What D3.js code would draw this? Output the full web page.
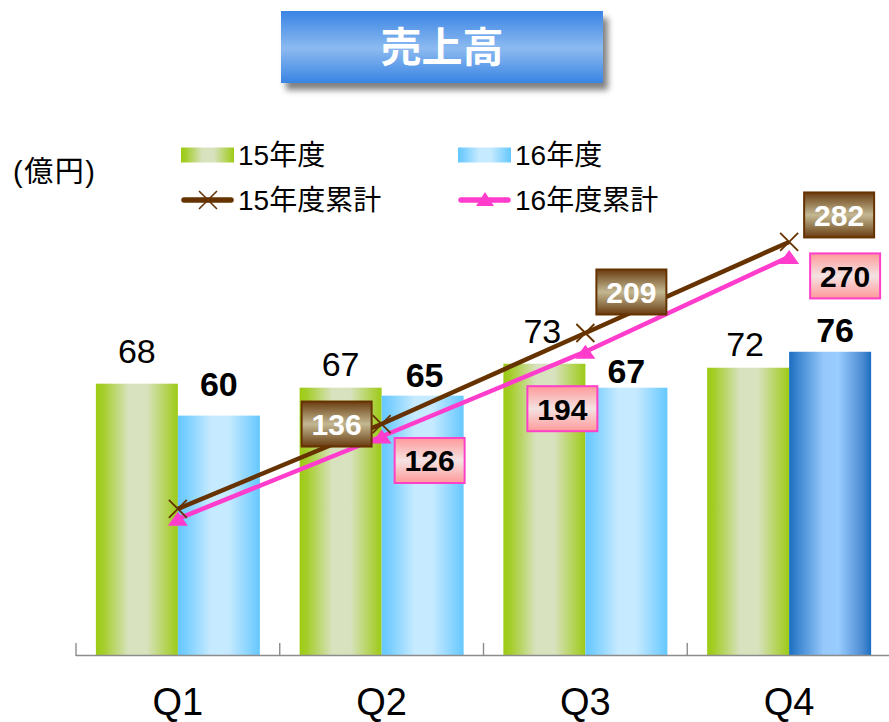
<!DOCTYPE html>
<html>
<head>
<meta charset="utf-8">
<script src="https://cdn.jsdelivr.net/npm/d3@7"></script>
<style>
  html, body { margin: 0; padding: 0; background: #fff; }
  svg { display: block; }
  text { font-family: "Liberation Sans", Arial, "Noto Sans CJK JP", sans-serif; }
</style>
</head>
<body>
<svg id="chart" width="889" height="722"></svg>
<script>
// ---- data ----
const quarters = ["Q1", "Q2", "Q3", "Q4"];
const sales15 = [68, 67, 73, 72];      // 15年度 quarterly sales (億円)
const sales16 = [60, 65, 67, 76];      // 16年度 quarterly sales (億円)
const cum15 = [68, 136, 209, 282];     // 15年度累計
const cum16 = [60, 126, 194, 270];     // 16年度累計
const titleText = "売上高";
const unitText = "(億円)";
const legendNames = ["15年度", "16年度", "15年度累計", "16年度累計"];

// ---- label placement (px) ----
const barLabelGap15 = [21, 12, 21, 12];
const barLabelGap16 = [20, 9, 5, 10];
const barLabelDx15 = [0, 0, -2, -3];
const barLabelDx16 = [0, 2, 0, 5];
// box centre offsets from the point; null = no box
const boxOffset15 = [null, [-45, 0], [46, -41], [50, -27]];
const boxOffset16 = [null, [48, 24], [-23, 57], [56, 19]];

const svg = d3.select("#chart");
const defs = svg.append("defs");

function hGrad(id, stops) {
  const g = defs.append("linearGradient").attr("id", id)
    .attr("x1", "0").attr("y1", "0").attr("x2", "1").attr("y2", "0");
  stops.forEach(([o, c]) => g.append("stop").attr("offset", o).attr("stop-color", c));
}
function vGrad(id, stops) {
  const g = defs.append("linearGradient").attr("id", id)
    .attr("x1", "0").attr("y1", "0").attr("x2", "0").attr("y2", "1");
  stops.forEach(([o, c]) => g.append("stop").attr("offset", o).attr("stop-color", c));
}
hGrad("gGreen", [[0, "#9dcb14"], [0.08, "#a3cd26"], [0.4, "#d8e2bf"], [0.62, "#d8e2bf"], [0.94, "#a6ce30"], [1, "#9dcb14"]]);
hGrad("gBlue", [[0, "#66c8ff"], [0.08, "#74cdff"], [0.4, "#c6eaff"], [0.62, "#c6eaff"], [0.94, "#74cdff"], [1, "#66c8ff"]]);
hGrad("gBlueHi", [[0, "#1a6ec0"], [0.1, "#3a85d0"], [0.42, "#96c8fa"], [0.6, "#99ccff"], [0.9, "#4a8ad2"], [1, "#1a6ec0"]]);
vGrad("gTitle", [[0, "#3984e4"], [0.52, "#8cbaf0"], [1, "#3984e4"]]);
vGrad("gBrownBox", [[0, "#6b3c10"], [0.18, "#8a6a40"], [0.5, "#c3b892"], [0.82, "#8a6a40"], [1, "#6b3c10"]]);
vGrad("gPinkBox", [[0, "#ff9999"], [0.5, "#f4e2e2"], [1, "#ff9999"]]);

const shadow = defs.append("filter").attr("id", "blur")
  .attr("x", "-10%").attr("y", "-20%").attr("width", "120%").attr("height", "140%");
shadow.append("feGaussianBlur").attr("stdDeviation", 3);

// ---- title button ----
const title = svg.append("g").attr("transform", "translate(281,11)");
title.append("rect").attr("x", 5).attr("y", 7).attr("width", 322).attr("height", 72)
  .attr("fill", "#555").attr("opacity", 0.75).attr("filter", "url(#blur)");
title.append("rect").attr("width", 322).attr("height", 72).attr("fill", "url(#gTitle)");
title.append("text").attr("x", 161).attr("y", 36).attr("dy", "0.36em")
  .attr("text-anchor", "middle").attr("fill", "#fff")
  .style("font-family", "'Noto Sans CJK JP', sans-serif")
  .style("font-weight", "bold").style("font-size", "41px").text(titleText);

// ---- scales ----
const x0 = d3.scaleBand().domain(quarters).range([76, 891]).padding(0);
const x1 = d3.scaleBand().domain(["15", "16"]).range([0, x0.bandwidth()])
  .paddingInner(0).paddingOuter(0.2424);
const y = d3.scaleLinear().domain([0, 100]).range([655, 256]);
const y2 = d3.scaleLinear().domain([-50, 300]).range([656, 219.5]);
const cx = q => x0(q) + x0.bandwidth() / 2;

// ---- bars ----
const groups = svg.append("g").selectAll("g").data(quarters).join("g")
  .attr("transform", q => `translate(${x0(q)},0)`);
groups.append("rect")
  .attr("x", x1("15")).attr("width", x1.bandwidth())
  .attr("y", (q, i) => y(sales15[i])).attr("height", (q, i) => y(0) - y(sales15[i]))
  .attr("fill", "url(#gGreen)");
groups.append("rect")
  .attr("x", x1("16")).attr("width", x1.bandwidth())
  .attr("y", (q, i) => y(sales16[i])).attr("height", (q, i) => y(0) - y(sales16[i]))
  .attr("fill", (q, i) => i === quarters.length - 1 ? "url(#gBlueHi)" : "url(#gBlue)");

// bar value labels
groups.append("text")
  .attr("x", (q, i) => x1("15") + x1.bandwidth() / 2 + barLabelDx15[i])
  .attr("y", (q, i) => y(sales15[i]) - barLabelGap15[i])
  .attr("text-anchor", "middle").style("font-size", "34px").attr("fill", "#000")
  .text((q, i) => sales15[i]);
groups.append("text")
  .attr("x", (q, i) => x1("16") + x1.bandwidth() / 2 + barLabelDx16[i])
  .attr("y", (q, i) => y(sales16[i]) - barLabelGap16[i])
  .attr("text-anchor", "middle").style("font-size", "34px").style("font-weight", "bold")
  .attr("fill", "#000").text((q, i) => sales16[i]);

// ---- axis ----
const axis = svg.append("g");
axis.append("line").attr("x1", 76).attr("x2", 891).attr("y1", 655.5).attr("y2", 655.5)
  .attr("stroke", "#8c8c8c").attr("stroke-width", 1.6);
const tickXs = quarters.map(q => x0(q)).concat([x0.range()[1]]);
axis.selectAll("line.tick").data(tickXs).join("line").attr("class", "tick")
  .attr("x1", d => d).attr("x2", d => d).attr("y1", 643).attr("y2", 656)
  .attr("stroke", "#8c8c8c").attr("stroke-width", 1.4);
axis.selectAll("text").data(quarters).join("text")
  .attr("x", q => cx(q)).attr("y", 715).attr("text-anchor", "middle")
  .style("font-size", "38px").attr("fill", "#000").text(q => q);

// ---- cumulative lines ----
const line15 = d3.line().x((d, i) => cx(quarters[i])).y(d => y2(d));
svg.append("path").datum(cum15).attr("d", line15).attr("fill", "none")
  .attr("stroke", "#663300").attr("stroke-width", 4.5);
svg.append("path").datum(cum16).attr("d", line15).attr("fill", "none")
  .attr("stroke", "#ff3ccc").attr("stroke-width", 4.5);

const cross = 9;
svg.append("g").selectAll("path").data(cum15).join("path")
  .attr("transform", (d, i) => `translate(${cx(quarters[i])},${y2(d)})`)
  .attr("d", `M${-cross},${-cross}L${cross},${cross}M${-cross},${cross}L${cross},${-cross}`)
  .attr("stroke", "#663300").attr("stroke-width", 1.8).attr("fill", "none");
const tri = "M0,-7L10,7L-10,7Z";
svg.append("g").selectAll("path").data(cum16).join("path")
  .attr("transform", (d, i) => `translate(${cx(quarters[i])},${y2(d)})`)
  .attr("d", tri).attr("fill", "#ff3ccc");

// ---- cumulative value boxes ----
function boxes(values, offsets, fill, stroke, color) {
  const g = svg.append("g").selectAll("g")
    .data(values.map((v, i) => ({ v, i, o: offsets[i] })).filter(d => d.o))
    .join("g")
    .attr("transform", d => `translate(${cx(quarters[d.i]) + d.o[0]},${y2(d.v) + d.o[1]})`);
  g.append("rect").attr("x", -35).attr("y", -22.5).attr("width", 70).attr("height", 45)
    .attr("fill", fill).attr("stroke", stroke).attr("stroke-width", 2);
  g.append("text").attr("y", 0).attr("dy", "0.36em").attr("text-anchor", "middle")
    .style("font-size", "30px").style("font-weight", "bold").attr("fill", color)
    .text(d => d.v);
}
boxes(cum15, boxOffset15, "url(#gBrownBox)", "#663300", "#fff");
boxes(cum16, boxOffset16, "url(#gPinkBox)", "#ff40c8", "#000");

// ---- legend ----
const leg = svg.append("g");
leg.append("text").attr("x", 13).attr("y", 172).attr("dy", "0.36em")
  .style("font-size", "29px").style("letter-spacing", "1.5px").attr("fill", "#000").text(unitText);
const legItems = [
  { x: 181, y: 155, type: "bar", fill: "url(#gGreen)" },
  { x: 458, y: 155, type: "bar", fill: "url(#gBlue)" },
  { x: 181, y: 200, type: "line15" },
  { x: 458, y: 200, type: "line16" }
];
legItems.forEach((it, i) => {
  const g = leg.append("g").attr("transform", `translate(${it.x},${it.y})`);
  if (it.type === "bar") {
    g.append("rect").attr("x", 0).attr("y", -7.5).attr("width", 53).attr("height", 15).attr("fill", it.fill);
  } else {
    const col = it.type === "line15" ? "#663300" : "#ff3ccc";
    g.append("line").attr("x1", 3).attr("x2", 50).attr("y1", 0).attr("y2", 0)
      .attr("stroke", col).attr("stroke-width", 5.5).attr("stroke-linecap", "round");
    if (it.type === "line15") {
      g.append("path").attr("d", "M18,-9L36,9M18,9L36,-9").attr("stroke", col).attr("stroke-width", 1.6);
    } else {
      g.append("path").attr("d", "M27,-8L36,6L18,6Z").attr("fill", col);
    }
  }
  g.append("text").attr("x", 57).attr("y", 0).attr("dy", "0.36em")
    .style("font-size", "28px").attr("fill", "#000").text(legendNames[i]);
});
</script>
</body>
</html>
